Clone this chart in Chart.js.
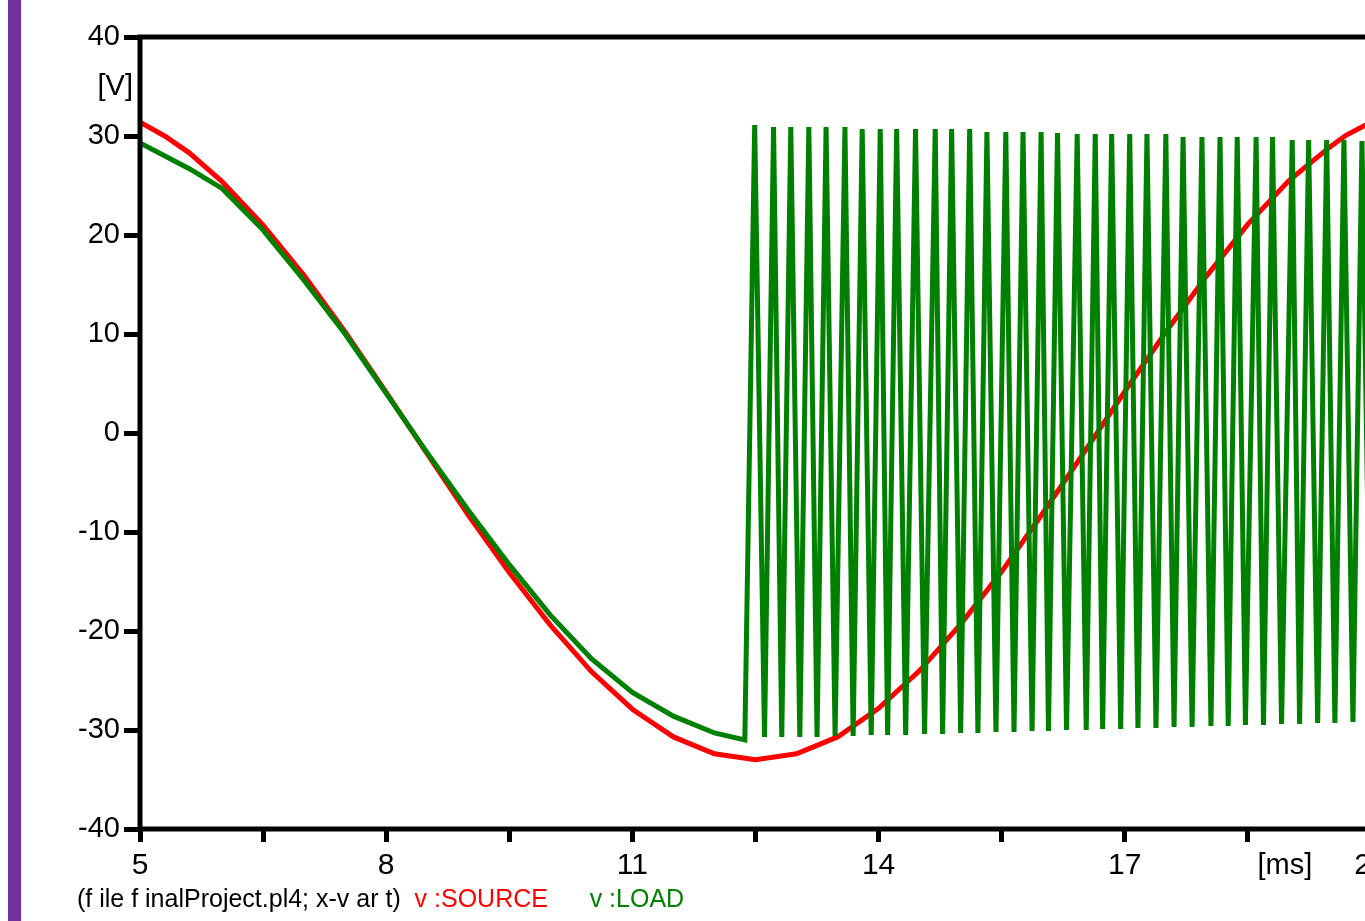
<!DOCTYPE html>
<html>
<head>
<meta charset="utf-8">
<title>v:SOURCE / v:LOAD</title>
<script src="https://cdn.jsdelivr.net/npm/chart.js@4.4.1/dist/chart.umd.min.js"></script>
<style>
  html, body { margin: 0; padding: 0; background: #fff; overflow: hidden; }
  body { width: 1365px; height: 921px; position: relative; }
  #bar { position: absolute; left: 8px; top: 0; width: 13px; height: 921px; background: #7030a0; }
  #wrap { position: absolute; left: 0; top: 0; width: 1400px; height: 921px; }
  #footer { position: absolute; left: 77px; top: 884px; font-family: "Liberation Sans Narrow", "Arial Narrow", "Liberation Sans", Arial, sans-serif; font-size: 25px; white-space: pre; color: #000; }
  #footer .src { color: #ff0000; }
  #footer .load { color: #008000; }
</style>
</head>
<body>
<div id="bar"></div>
<div id="wrap"><canvas id="chart" width="1400" height="921"></canvas></div>
<div id="footer">(f ile f inalProject.pl4; x-v ar t)  <span class="src">v :SOURCE</span>      <span class="load">v :LOAD</span></div>
<script>
// time axis in ms, voltage in V
const sourceTime = [5.0, 5.3, 5.6, 6.0, 6.5, 7.0, 7.5, 8.0, 8.5, 9.0, 9.5, 10.0, 10.5, 11.0, 11.5, 12.0,
    12.5, 13.0, 13.5, 14.0, 14.5, 15.0, 15.5, 16.0, 16.5, 17.0, 17.5, 18.0, 18.5, 19.0, 19.5, 19.7, 20.0];
const sourceVolt = [31.4, 30.0, 28.3, 25.4, 21.0, 15.9, 10.2, 4.1, -2.1, -8.3, -14.1, -19.4, -24.1, -27.9, -30.7, -32.4,
    -33.0, -32.4, -30.7, -27.8, -24.0, -19.3, -14.0, -8.1, -2.0, 4.2, 10.2, 15.9, 21.1, 25.5, 28.9, 30.1, 31.4];

// load follows the source until the switch opens, then chops between the rails
const loadTime = [5.0, 5.6, 6.0, 6.5, 7.0, 7.5, 8.0, 8.5, 9.0, 9.5, 10.0, 10.5, 11.0, 11.5, 12.0, 12.37,
    12.49, 12.61, 12.72, 12.82, 12.93, 13.04, 13.15, 13.25, 13.36, 13.47, 13.59, 13.69, 13.80, 13.91,
    14.02, 14.11, 14.22, 14.33, 14.45, 14.56, 14.69, 14.78, 14.89, 15.00, 15.11, 15.21, 15.32, 15.43,
    15.55, 15.65, 15.76, 15.87, 15.98, 16.07, 16.18, 16.29, 16.42, 16.53, 16.64, 16.73, 16.84, 16.95,
    17.06, 17.16, 17.27, 17.38, 17.50, 17.60, 17.71, 17.82, 17.94, 18.05, 18.16, 18.26, 18.37, 18.47,
    18.60, 18.69, 18.80, 18.91, 19.04, 19.13, 19.24, 19.35, 19.46, 19.56, 19.67, 19.78, 19.89, 20.0];
const loadVolt = [29.3, 26.7, 24.7, 20.5, 15.4, 10.0, 4.0, -2.0, -7.8, -13.3, -18.4, -22.8, -26.2, -28.6, -30.3, -31.0,
    31.1, -30.7, 30.9, -30.7, 30.9, -30.7, 30.9, -30.7, 30.9, -30.6, 30.9, -30.6, 30.7, -30.5,
    30.7, -30.5, 30.7, -30.5, 30.7, -30.4, 30.7, -30.4, 30.7, -30.3, 30.7, -30.3, 30.4, -30.2,
    30.4, -30.2, 30.4, -30.1, 30.4, -30.1, 30.3, -30.0, 30.2, -30.0, 30.2, -29.9, 30.2, -29.9,
    30.2, -29.8, 30.2, -29.8, 30.2, -29.7, 29.9, -29.7, 29.9, -29.6, 29.9, -29.6, 29.9, -29.5,
    29.9, -29.5, 29.9, -29.4, 29.6, -29.4, 29.6, -29.3, 29.6, -29.3, 29.6, -29.2, 29.5, -29.2];

const xTickLabels = ['5', '8', '11', '14', '17', '20'];
const yTickLabels = ['-40', '-30', '-20', '-10', '0', '10', '20', '30', '40'];

const sans = '"Liberation Sans", Arial, sans-serif';
const narrow = '"Liberation Sans Narrow", "Arial Narrow", "Liberation Sans", Arial, sans-serif';

function toPoints(xs, ys) {
    return xs.map((x, i) => ({ x: x, y: ys[i] }));
}

// black frame round the plot area plus the unit labels
const framePlugin = {
    id: 'frame',
    afterDatasetsDraw(chart) {
        const ctx = chart.ctx;
        const a = chart.chartArea;
        ctx.save();
        ctx.strokeStyle = '#000';
        ctx.lineWidth = 5;
        ctx.strokeRect(a.left, a.top, a.right - a.left, a.bottom - a.top);
        ctx.fillStyle = '#000';
        ctx.font = '29px ' + sans;
        ctx.textAlign = 'right';
        ctx.textBaseline = 'middle';
        ctx.fillText('[V]', a.left - 7, chart.scales.y.getPixelForValue(35));
        ctx.font = '29px ' + narrow;
        ctx.textAlign = 'center';
        ctx.textBaseline = 'top';
        ctx.fillText('[ms]', chart.scales.x.getPixelForValue(18.95), a.bottom + 22);
        ctx.restore();
    }
};

new Chart(document.getElementById('chart'), {
    type: 'line',
    data: {
        datasets: [
            {
                label: 'v:LOAD',
                data: toPoints(loadTime, loadVolt),
                borderColor: '#008000',
                borderWidth: 5,
                pointRadius: 0,
                tension: 0
            },
            {
                label: 'v:SOURCE',
                data: toPoints(sourceTime, sourceVolt),
                borderColor: '#ff0000',
                borderWidth: 5,
                pointRadius: 0,
                tension: 0
            }
        ]
    },
    options: {
        responsive: false,
        animation: false,
        events: [],
        layout: { padding: { top: 37, right: 29, left: 0, bottom: 0 } },
        plugins: {
            legend: { display: false },
            tooltip: { enabled: false }
        },
        scales: {
            x: {
                type: 'linear',
                min: 5,
                max: 20,
                afterFit: s => { s.height = 92; },
                afterBuildTicks: s => { s.ticks = [5, 6.5, 8, 9.5, 11, 12.5, 14, 15.5, 17, 18.5, 20].map(v => ({ value: v })); },
                border: { display: false },
                grid: { drawOnChartArea: false, drawTicks: true, tickLength: 13, tickWidth: 5, tickColor: '#000' },
                ticks: {
                    autoSkip: false,
                    maxRotation: 0,
                    padding: 6,
                    color: '#000',
                    font: { family: narrow, size: 30 },
                    callback: v => xTickLabels.includes(String(v)) ? String(v) : ''
                }
            },
            y: {
                min: -40,
                max: 40,
                afterFit: s => { s.width = 140; },
                border: { display: false },
                grid: { drawOnChartArea: false, drawTicks: true, tickLength: 16, tickWidth: 5, tickColor: '#000' },
                ticks: {
                    stepSize: 10,
                    padding: 4,
                    color: '#000',
                    font: { family: sans, size: 29 },
                    callback: v => yTickLabels.includes(String(v)) ? String(v) : ''
                }
            }
        }
    },
    plugins: [framePlugin]
});
</script>
</body>
</html>
